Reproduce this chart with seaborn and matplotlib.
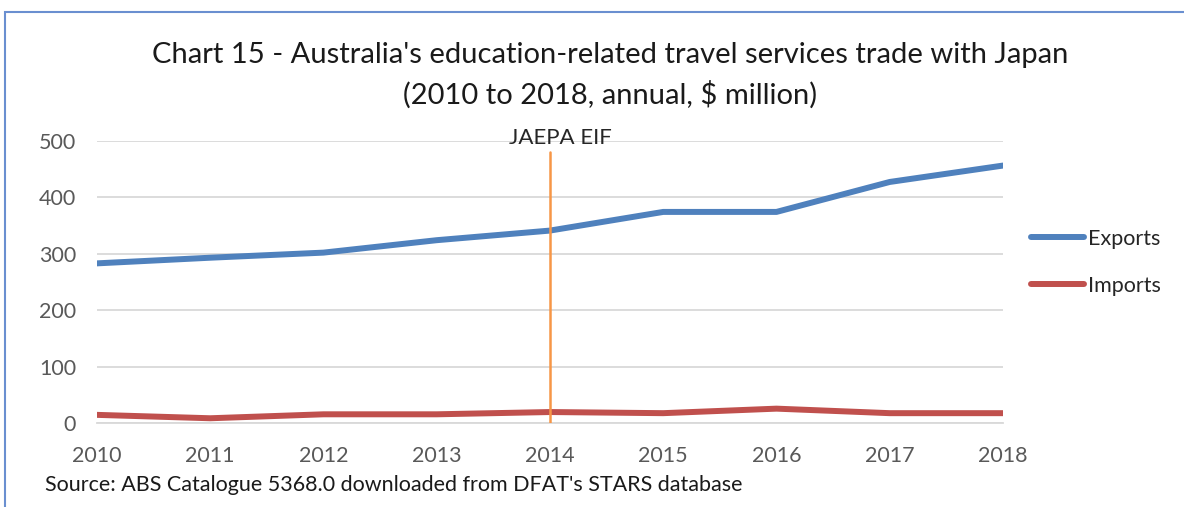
import matplotlib
matplotlib.use("Agg")
import matplotlib.pyplot as plt
import seaborn as sns
import pandas as pd
from matplotlib.patches import Rectangle
from matplotlib.lines import Line2D

years = [2010, 2011, 2012, 2013, 2014, 2015, 2016, 2017, 2018]
exports = [283, 293, 302, 324, 341, 374, 374, 427, 456]
imports = [15, 9, 16, 16, 20, 18, 26, 18, 18]
series_names = ["Exports", "Imports"]
yticks = [0, 100, 200, 300, 400, 500]
event_year = 2014
event_label = "JAEPA EIF"
title = ("Chart 15 - Australia's education-related travel services trade with Japan\n"
         "(2010 to 2018, annual, $ million)")
source = "Source: ABS Catalogue 5368.0 downloaded from DFAT's STARS database"

df = pd.DataFrame({
    "Year": years * 2,
    "Value": exports + imports,
    "Series": [series_names[0]] * len(years) + [series_names[1]] * len(years),
})

sns.set_theme(style="white")
plt.rcParams["font.family"] = ["Lato", "DejaVu Sans"]

fig = plt.figure(figsize=(11.84, 5.07), dpi=100)
ax = fig.add_axes([0.0819, 0.165, 0.7652, 0.5575])

palette = {"Exports": "#4F81BD", "Imports": "#C0504D"}
sns.lineplot(data=df, x="Year", y="Value", hue="Series", palette=palette,
             linewidth=4.3, ax=ax, legend=False, zorder=3)

ax.set_xlim(years[0], years[-1])
ax.set_ylim(yticks[0], yticks[-1])
ax.set_yticks(yticks)
ax.set_xticks(years)
ax.set_xlabel("")
ax.set_ylabel("")
ax.grid(axis="y", color="#D9D9D9", linewidth=1.3, zorder=0)
for s in ["top", "right", "left"]:
    ax.spines[s].set_visible(False)
ax.spines["bottom"].set_color("#D9D9D9")
ax.spines["bottom"].set_linewidth(1.3)
ax.tick_params(axis="x", direction="in", length=6, width=1.3, color="#D9D9D9",
               labelsize=15.5, labelcolor="#595959", pad=16)
ax.tick_params(axis="y", length=0, labelsize=15.5, labelcolor="#595959", pad=15)

# FTA entry-into-force marker
ax.axvline(event_year, ymin=0, ymax=0.96, color="#F79646", linewidth=1.8, zorder=4)
ax.text(event_year + 0.09, 1.01, event_label, transform=ax.get_xaxis_transform(),
        ha="center", va="center", fontsize=16, color="#262626", zorder=5)

fig.text(0.515, 0.851, title, ha="center", va="center", fontsize=21,
         color="#1a1a1a", linespacing=1.55)
fig.text(0.038, 0.043, source, ha="left", va="center", fontsize=15.5, color="#1a1a1a")

# legend drawn at right
handles = [Line2D([0], [0], color=palette[n], linewidth=4.3, solid_capstyle="round")
           for n in series_names]
fig.legend(handles, series_names, loc="center left", bbox_to_anchor=(0.854, 0.483),
           frameon=False, fontsize=15.5, handlelength=2.5, handletextpad=0.15,
           labelspacing=1.25)

# outer chart frame
fig.patches.append(Rectangle((0.004, -0.1), 1.1, 1.076, transform=fig.transFigure,
                             fill=False, edgecolor="#6A8FD0", linewidth=1.5))

fig.savefig("out.png", dpi=100)
